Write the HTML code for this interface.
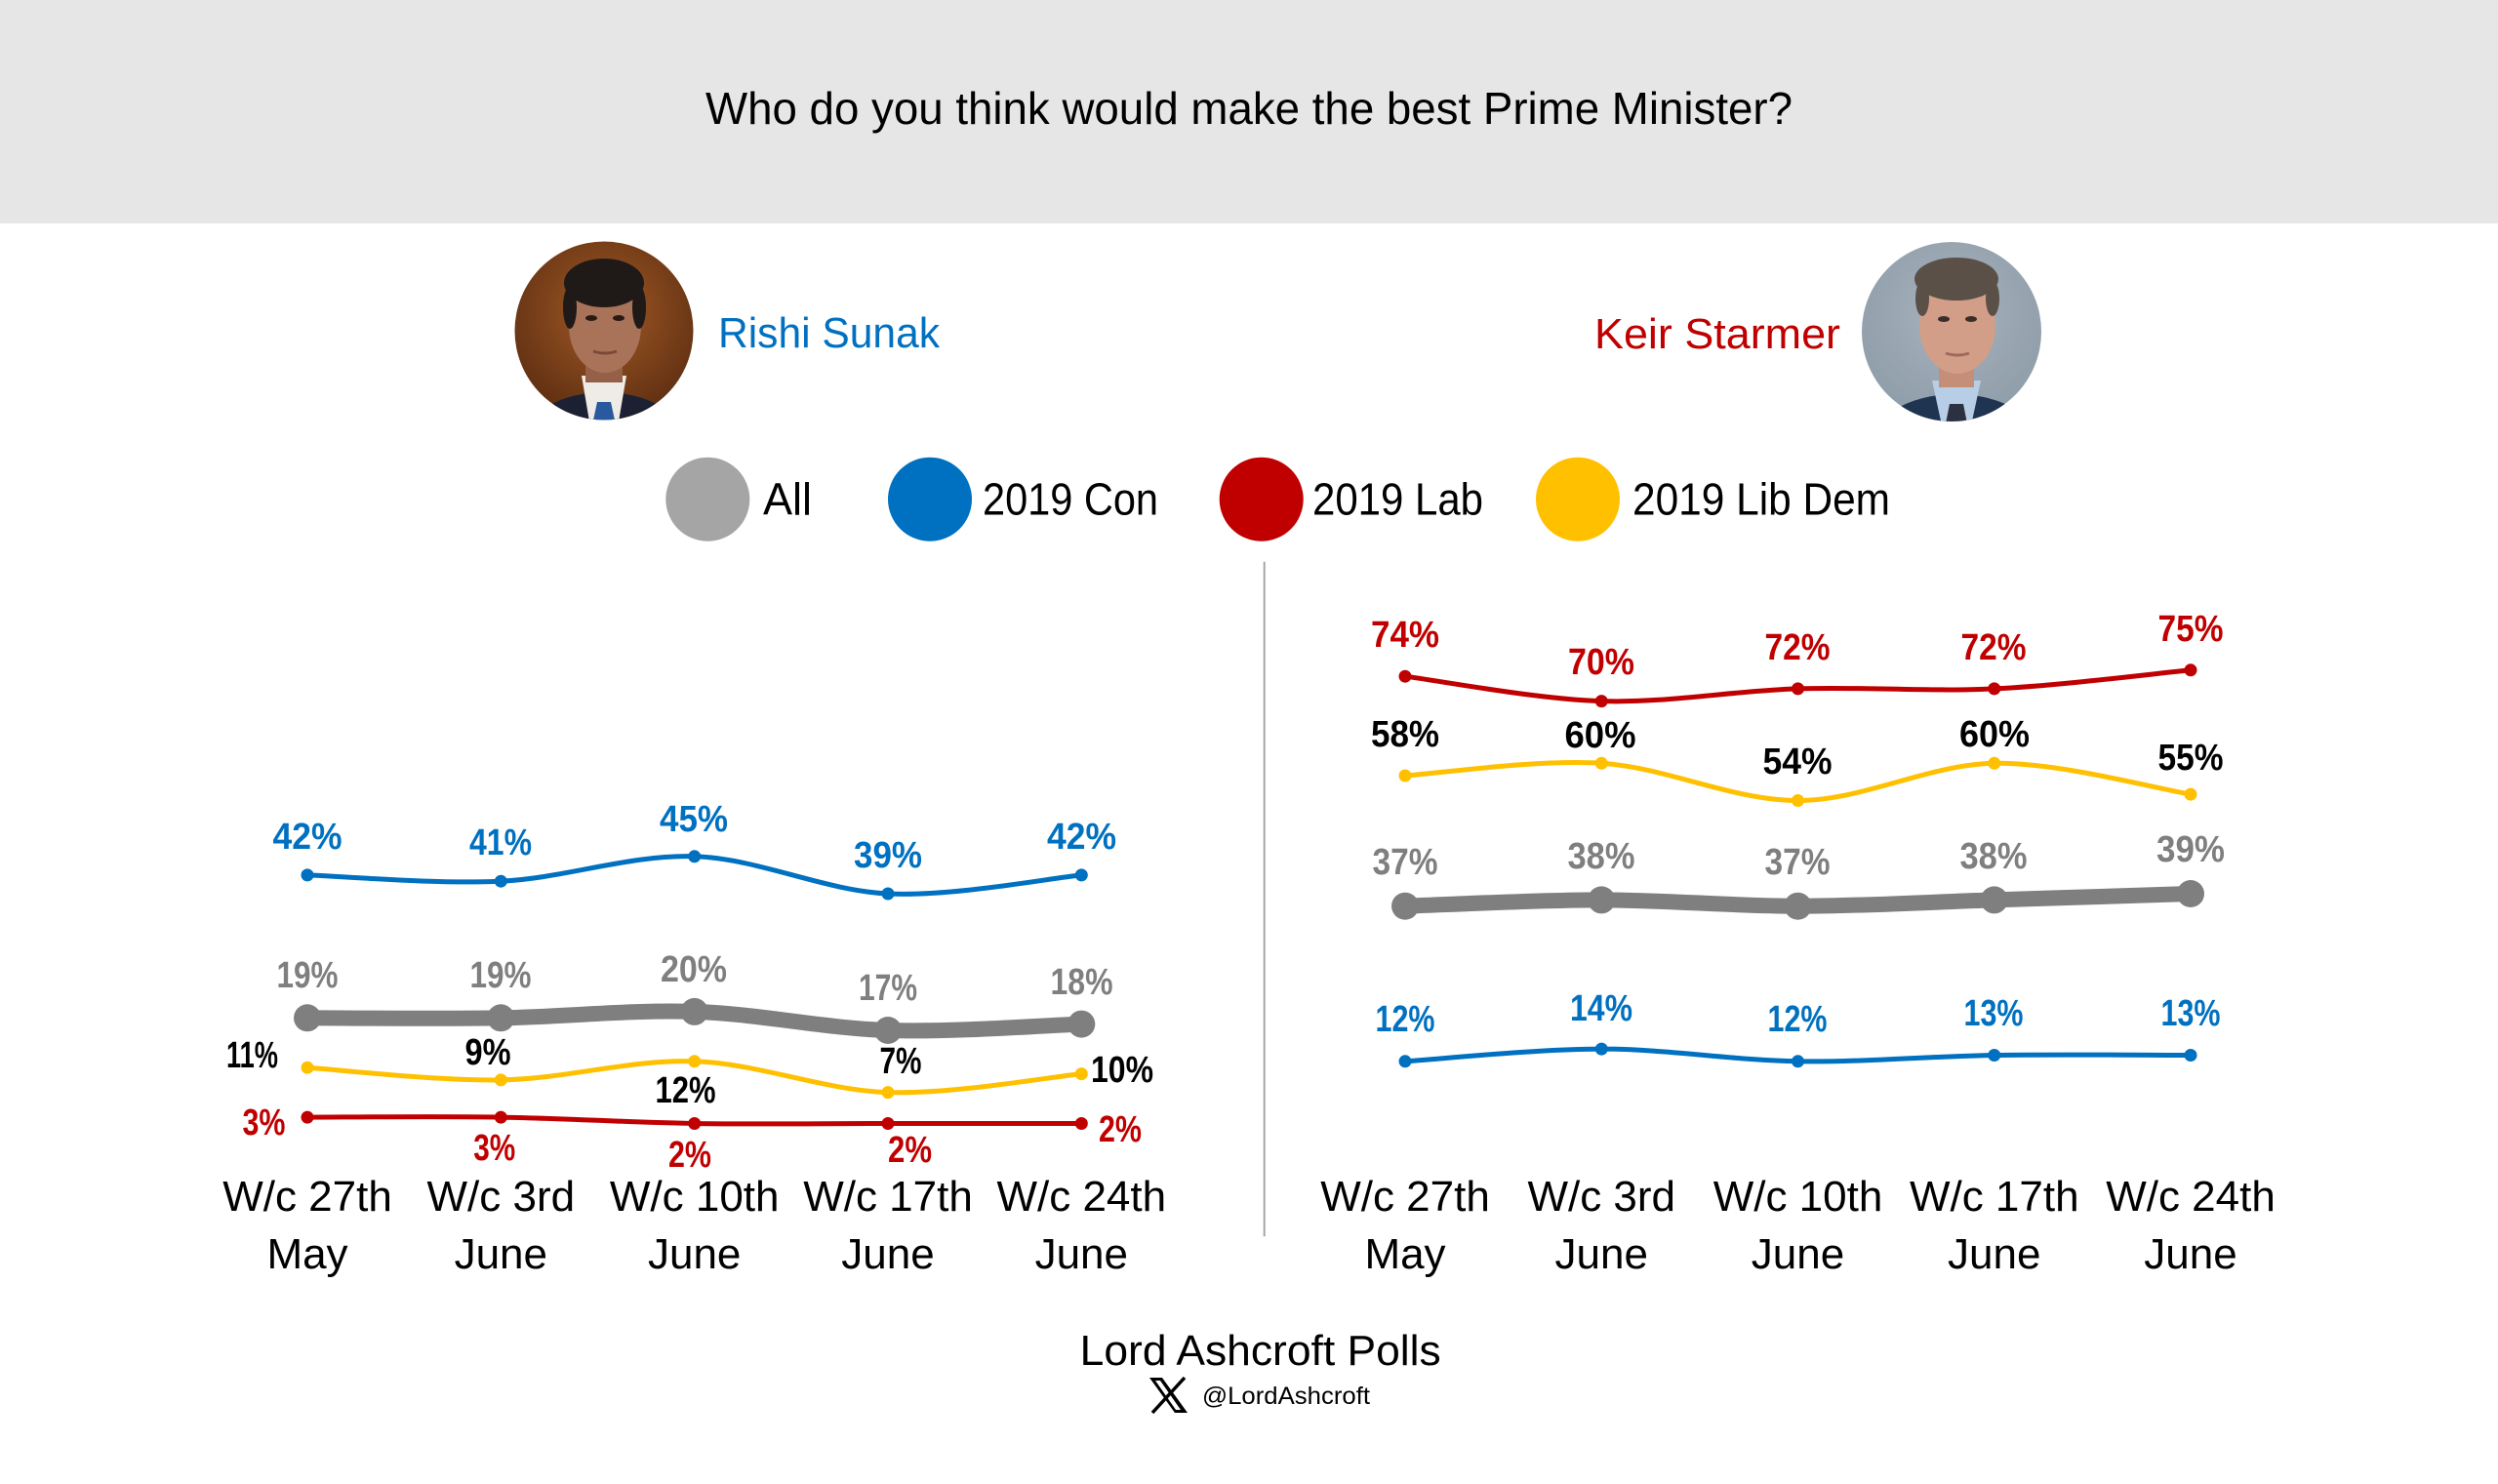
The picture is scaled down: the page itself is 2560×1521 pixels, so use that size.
<!DOCTYPE html>
<html>
<head>
<meta charset="utf-8">
<style>
html,body{margin:0;padding:0;background:#fff;}
svg{display:block;}
text{font-family:"Liberation Sans",Arial,sans-serif;}
.v{font-weight:bold;font-size:38px;text-anchor:middle;}
.ax{font-size:44px;text-anchor:middle;fill:#000;}
</style>
</head>
<body>
<svg width="2560" height="1521" viewBox="0 0 2560 1521" xmlns="http://www.w3.org/2000/svg">
<defs>
  <clipPath id="c1"><circle cx="619" cy="339" r="91.5"/></clipPath>
  <clipPath id="c2"><circle cx="2000" cy="340" r="92"/></clipPath>
  <radialGradient id="g1" cx="0.5" cy="0.4" r="0.6">
    <stop offset="0" stop-color="#a35a26"/>
    <stop offset="1" stop-color="#5a2c10"/>
  </radialGradient>
  <radialGradient id="g2" cx="0.5" cy="0.4" r="0.6">
    <stop offset="0" stop-color="#a7b3bd"/>
    <stop offset="1" stop-color="#8d9ba8"/>
  </radialGradient>
</defs>

<!-- header band -->
<rect x="0" y="0" width="2560" height="229" fill="#e7e6e6"/>
<text x="1280" y="127" font-size="46" text-anchor="middle" fill="#000" textLength="1114" lengthAdjust="spacingAndGlyphs">Who do you think would make the best Prime Minister?</text>

<!-- Sunak photo -->
<g clip-path="url(#c1)">
  <rect x="520" y="240" width="200" height="200" fill="url(#g1)"/>
  <ellipse cx="619" cy="452" rx="82" ry="50" fill="#1b2132"/>
  <polygon points="596,385 642,385 634,432 604,432" fill="#efebe6"/>
  <rect x="600" y="362" width="38" height="30" fill="#946048"/>
  <ellipse cx="620" cy="334" rx="37" ry="48" fill="#a9735a"/>
  <ellipse cx="619" cy="290" rx="41" ry="25" fill="#1f1a18"/>
  <ellipse cx="584" cy="315" rx="7" ry="22" fill="#1f1a18"/>
  <ellipse cx="655" cy="315" rx="7" ry="22" fill="#1f1a18"/>
  <ellipse cx="606" cy="326" rx="6" ry="3" fill="#2a1a14"/>
  <ellipse cx="634" cy="326" rx="6" ry="3" fill="#2a1a14"/>
  <path d="M608 360 Q620 364 632 360" stroke="#7a4a3a" stroke-width="3" fill="none"/>
  <polygon points="612,412 626,412 632,440 606,440" fill="#2a5a9e"/>
</g>
<text x="736" y="356" font-size="44" fill="#0070c0" textLength="227" lengthAdjust="spacingAndGlyphs">Rishi Sunak</text>

<!-- Starmer photo -->
<g clip-path="url(#c2)">
  <rect x="1900" y="240" width="200" height="205" fill="url(#g2)"/>
  <ellipse cx="2004" cy="458" rx="88" ry="54" fill="#1f3450"/>
  <polygon points="1980,390 2030,390 2020,436 1990,436" fill="#b8cde6"/>
  <rect x="1987" y="367" width="36" height="30" fill="#c48e78"/>
  <ellipse cx="2006" cy="334" rx="39" ry="49" fill="#d29e88"/>
  <ellipse cx="2005" cy="286" rx="43" ry="22" fill="#5b5048"/>
  <ellipse cx="1970" cy="306" rx="7" ry="18" fill="#5b5048"/>
  <ellipse cx="2042" cy="306" rx="7" ry="18" fill="#5b5048"/>
  <ellipse cx="1992" cy="327" rx="6" ry="3" fill="#3a2e2a"/>
  <ellipse cx="2020" cy="327" rx="6" ry="3" fill="#3a2e2a"/>
  <path d="M1994 362 Q2006 366 2018 362" stroke="#a06a5a" stroke-width="3" fill="none"/>
  <polygon points="1998,414 2012,414 2018,444 1992,444" fill="#2b3140"/>
</g>
<text x="1634" y="357" font-size="44" fill="#c00000" textLength="252" lengthAdjust="spacingAndGlyphs">Keir Starmer</text>

<!-- legend -->
<circle cx="725.3" cy="511.7" r="43" fill="#a5a5a5"/>
<text x="782" y="527.7" font-size="46" fill="#000" textLength="50" lengthAdjust="spacingAndGlyphs">All</text>
<circle cx="953" cy="511.7" r="43" fill="#0070c0"/>
<text x="1007" y="527.7" font-size="46" fill="#000" textLength="180" lengthAdjust="spacingAndGlyphs">2019 Con</text>
<circle cx="1292.7" cy="511.7" r="43" fill="#c00000"/>
<text x="1345" y="527.7" font-size="46" fill="#000" textLength="175" lengthAdjust="spacingAndGlyphs">2019 Lab</text>
<circle cx="1617" cy="511.7" r="43" fill="#ffc000"/>
<text x="1673" y="527.7" font-size="46" fill="#000" textLength="264" lengthAdjust="spacingAndGlyphs">2019 Lib Dem</text>

<!-- divider -->
<line x1="1295.7" y1="575.7" x2="1295.7" y2="1267.3" stroke="#a6a6a6" stroke-width="2"/>

<!-- LEFT CHART lines -->
<g fill="none" stroke-linecap="round">
  <path d="M315,896.9 C348.05,897.95 447.2,906.38 513.3,903.2 C579.4,900.02 645.6,875.67 711.7,877.8 C777.8,879.93 843.9,912.82 910,916 C976.1,919.18 1075.25,900.08 1108.3,896.9" stroke="#0070c0" stroke-width="5"/>
  <path d="M315,1043.3 C348.05,1043.3 447.2,1044.37 513.3,1043.3 C579.4,1042.23 645.6,1034.78 711.7,1036.9 C777.8,1039.02 843.9,1053.88 910,1056 C976.1,1058.12 1075.25,1050.67 1108.3,1049.6" stroke="#7f7f7f" stroke-width="16"/>
  <path d="M315,1094.2 C348.05,1096.32 447.2,1107.97 513.3,1106.9 C579.4,1105.83 645.6,1085.68 711.7,1087.8 C777.8,1089.92 843.9,1117.47 910,1119.6 C976.1,1121.73 1075.25,1103.77 1108.3,1100.6" stroke="#ffc000" stroke-width="5"/>
  <path d="M315,1145.1 C348.05,1145.1 447.2,1144.03 513.3,1145.1 C579.4,1146.17 645.6,1150.43 711.7,1151.5 C777.8,1152.57 843.9,1151.5 910,1151.5 C976.1,1151.5 1075.25,1151.5 1108.3,1151.5" stroke="#c00000" stroke-width="5"/>
</g>
<g fill="#0070c0">
  <circle cx="315" cy="896.9" r="6.5"/><circle cx="513.3" cy="903.2" r="6.5"/><circle cx="711.7" cy="877.8" r="6.5"/><circle cx="910" cy="916" r="6.5"/><circle cx="1108.3" cy="896.9" r="6.5"/>
</g>
<g fill="#7f7f7f">
  <circle cx="315" cy="1043.3" r="14"/><circle cx="513.3" cy="1043.3" r="14"/><circle cx="711.7" cy="1036.9" r="14"/><circle cx="910" cy="1056" r="14"/><circle cx="1108.3" cy="1049.6" r="14"/>
</g>
<g fill="#ffc000">
  <circle cx="315" cy="1094.2" r="6.5"/><circle cx="513.3" cy="1106.9" r="6.5"/><circle cx="711.7" cy="1087.8" r="6.5"/><circle cx="910" cy="1119.6" r="6.5"/><circle cx="1108.3" cy="1100.6" r="6.5"/>
</g>
<g fill="#c00000">
  <circle cx="315" cy="1145.1" r="6.5"/><circle cx="513.3" cy="1145.1" r="6.5"/><circle cx="711.7" cy="1151.5" r="6.5"/><circle cx="910" cy="1151.5" r="6.5"/><circle cx="1108.3" cy="1151.5" r="6.5"/>
</g>

<!-- LEFT labels -->
<g fill="#0070c0">
  <text class="v" x="315" y="870" textLength="71" lengthAdjust="spacingAndGlyphs">42%</text>
  <text class="v" x="513" y="876" textLength="64" lengthAdjust="spacingAndGlyphs">41%</text>
  <text class="v" x="711" y="852" textLength="70" lengthAdjust="spacingAndGlyphs">45%</text>
  <text class="v" x="910" y="889" textLength="70" lengthAdjust="spacingAndGlyphs">39%</text>
  <text class="v" x="1108.5" y="870" textLength="71" lengthAdjust="spacingAndGlyphs">42%</text>
</g>
<g fill="#7f7f7f">
  <text class="v" x="315" y="1012" textLength="63" lengthAdjust="spacingAndGlyphs">19%</text>
  <text class="v" x="513" y="1012" textLength="63" lengthAdjust="spacingAndGlyphs">19%</text>
  <text class="v" x="711" y="1006" textLength="68" lengthAdjust="spacingAndGlyphs">20%</text>
  <text class="v" x="910" y="1025" textLength="60" lengthAdjust="spacingAndGlyphs">17%</text>
  <text class="v" x="1108.5" y="1019" textLength="64" lengthAdjust="spacingAndGlyphs">18%</text>
</g>
<g fill="#000">
  <text class="v" x="258.5" y="1094" textLength="53" lengthAdjust="spacingAndGlyphs">11%</text>
  <text class="v" x="500" y="1091" textLength="47" lengthAdjust="spacingAndGlyphs">9%</text>
  <text class="v" x="702.5" y="1130" textLength="62" lengthAdjust="spacingAndGlyphs">12%</text>
  <text class="v" x="923" y="1100" textLength="43" lengthAdjust="spacingAndGlyphs">7%</text>
  <text class="v" x="1150" y="1109" textLength="64" lengthAdjust="spacingAndGlyphs">10%</text>
</g>
<g fill="#c00000">
  <text class="v" x="270.5" y="1163" textLength="44" lengthAdjust="spacingAndGlyphs">3%</text>
  <text class="v" x="506.7" y="1189" textLength="43" lengthAdjust="spacingAndGlyphs">3%</text>
  <text class="v" x="707" y="1196" textLength="44" lengthAdjust="spacingAndGlyphs">2%</text>
  <text class="v" x="932.5" y="1191" textLength="45" lengthAdjust="spacingAndGlyphs">2%</text>
  <text class="v" x="1148" y="1170" textLength="44" lengthAdjust="spacingAndGlyphs">2%</text>
</g>

<!-- LEFT axis -->
<text class="ax" x="315" y="1241">W/c 27th</text>
<text class="ax" x="315" y="1300">May</text>
<text class="ax" x="513.3" y="1241">W/c 3rd</text>
<text class="ax" x="513.3" y="1300">June</text>
<text class="ax" x="711.7" y="1241">W/c 10th</text>
<text class="ax" x="711.7" y="1300">June</text>
<text class="ax" x="910" y="1241">W/c 17th</text>
<text class="ax" x="910" y="1300">June</text>
<text class="ax" x="1108.3" y="1241">W/c 24th</text>
<text class="ax" x="1108.3" y="1300">June</text>

<!-- RIGHT CHART lines -->
<g fill="none" stroke-linecap="round">
  <path d="M1440,693.2 C1473.54,697.43 1574.17,716.48 1641.25,718.6 C1708.33,720.72 1775.42,708.02 1842.5,705.9 C1909.58,703.78 1976.67,709.08 2043.75,705.9 C2110.83,702.72 2211.46,689.98 2245,686.8" stroke="#c00000" stroke-width="5"/>
  <path d="M1440,795 C1473.54,792.88 1574.17,778.05 1641.25,782.3 C1708.33,786.55 1775.42,820.5 1842.5,820.5 C1909.58,820.5 1976.67,783.37 2043.75,782.3 C2110.83,781.23 2211.46,808.8 2245,814.1" stroke="#ffc000" stroke-width="5"/>
  <path d="M1440,928.7 C1473.54,927.65 1574.17,922.4 1641.25,922.4 C1708.33,922.4 1775.42,928.7 1842.5,928.7 C1909.58,928.7 1976.67,924.52 2043.75,922.4 C2110.83,920.28 2211.46,917.07 2245,916" stroke="#7f7f7f" stroke-width="16"/>
  <path d="M1440,1087.8 C1473.54,1085.68 1574.17,1075.1 1641.25,1075.1 C1708.33,1075.1 1775.42,1086.73 1842.5,1087.8 C1909.58,1088.87 1976.67,1082.55 2043.75,1081.5 C2110.83,1080.45 2211.46,1081.5 2245,1081.5" stroke="#0070c0" stroke-width="5"/>
</g>
<g fill="#c00000">
  <circle cx="1440" cy="693.2" r="6.5"/><circle cx="1641.25" cy="718.6" r="6.5"/><circle cx="1842.5" cy="705.9" r="6.5"/><circle cx="2043.75" cy="705.9" r="6.5"/><circle cx="2245" cy="686.8" r="6.5"/>
</g>
<g fill="#ffc000">
  <circle cx="1440" cy="795" r="6.5"/><circle cx="1641.25" cy="782.3" r="6.5"/><circle cx="1842.5" cy="820.5" r="6.5"/><circle cx="2043.75" cy="782.3" r="6.5"/><circle cx="2245" cy="814.1" r="6.5"/>
</g>
<g fill="#7f7f7f">
  <circle cx="1440" cy="928.7" r="14"/><circle cx="1641.25" cy="922.4" r="14"/><circle cx="1842.5" cy="928.7" r="14"/><circle cx="2043.75" cy="922.4" r="14"/><circle cx="2245" cy="916" r="14"/>
</g>
<g fill="#0070c0">
  <circle cx="1440" cy="1087.8" r="6.5"/><circle cx="1641.25" cy="1075.1" r="6.5"/><circle cx="1842.5" cy="1087.8" r="6.5"/><circle cx="2043.75" cy="1081.5" r="6.5"/><circle cx="2245" cy="1081.5" r="6.5"/>
</g>

<!-- RIGHT labels -->
<g fill="#c00000">
  <text class="v" x="1440" y="663" textLength="70" lengthAdjust="spacingAndGlyphs">74%</text>
  <text class="v" x="1641" y="691" textLength="68" lengthAdjust="spacingAndGlyphs">70%</text>
  <text class="v" x="1842" y="676" textLength="67" lengthAdjust="spacingAndGlyphs">72%</text>
  <text class="v" x="2043" y="676" textLength="67" lengthAdjust="spacingAndGlyphs">72%</text>
  <text class="v" x="2245" y="657" textLength="67" lengthAdjust="spacingAndGlyphs">75%</text>
</g>
<g fill="#000">
  <text class="v" x="1440" y="765" textLength="70" lengthAdjust="spacingAndGlyphs">58%</text>
  <text class="v" x="1640" y="766" textLength="73" lengthAdjust="spacingAndGlyphs">60%</text>
  <text class="v" x="1842" y="793" textLength="71" lengthAdjust="spacingAndGlyphs">54%</text>
  <text class="v" x="2044" y="765" textLength="72" lengthAdjust="spacingAndGlyphs">60%</text>
  <text class="v" x="2245" y="789" textLength="67" lengthAdjust="spacingAndGlyphs">55%</text>
</g>
<g fill="#7f7f7f">
  <text class="v" x="1440" y="896" textLength="67" lengthAdjust="spacingAndGlyphs">37%</text>
  <text class="v" x="1641" y="890" textLength="69" lengthAdjust="spacingAndGlyphs">38%</text>
  <text class="v" x="1842" y="896" textLength="67" lengthAdjust="spacingAndGlyphs">37%</text>
  <text class="v" x="2043" y="890" textLength="69" lengthAdjust="spacingAndGlyphs">38%</text>
  <text class="v" x="2245" y="883" textLength="70" lengthAdjust="spacingAndGlyphs">39%</text>
</g>
<g fill="#0070c0">
  <text class="v" x="1440" y="1057" textLength="61" lengthAdjust="spacingAndGlyphs">12%</text>
  <text class="v" x="1641" y="1046" textLength="64" lengthAdjust="spacingAndGlyphs">14%</text>
  <text class="v" x="1842" y="1057" textLength="61" lengthAdjust="spacingAndGlyphs">12%</text>
  <text class="v" x="2043" y="1051" textLength="61" lengthAdjust="spacingAndGlyphs">13%</text>
  <text class="v" x="2245" y="1051" textLength="61" lengthAdjust="spacingAndGlyphs">13%</text>
</g>

<!-- RIGHT axis -->
<text class="ax" x="1440" y="1241">W/c 27th</text>
<text class="ax" x="1440" y="1300">May</text>
<text class="ax" x="1641.25" y="1241">W/c 3rd</text>
<text class="ax" x="1641.25" y="1300">June</text>
<text class="ax" x="1842.5" y="1241">W/c 10th</text>
<text class="ax" x="1842.5" y="1300">June</text>
<text class="ax" x="2043.75" y="1241">W/c 17th</text>
<text class="ax" x="2043.75" y="1300">June</text>
<text class="ax" x="2245" y="1241">W/c 24th</text>
<text class="ax" x="2245" y="1300">June</text>

<!-- footer -->
<text x="1291.7" y="1399" font-size="44" text-anchor="middle" fill="#000" textLength="370" lengthAdjust="spacingAndGlyphs">Lord Ashcroft Polls</text>
<polygon points="1178,1412 1191,1412 1217,1448 1204,1448" fill="#000"/>
<polygon points="1184,1415 1189,1415 1210,1445 1205,1445" fill="#fff"/>
<line x1="1214" y1="1412" x2="1181" y2="1448" stroke="#000" stroke-width="3.5"/>
<text x="1232" y="1439" font-size="25" fill="#000" textLength="172" lengthAdjust="spacingAndGlyphs">@LordAshcroft</text>
</svg>
</body>
</html>
